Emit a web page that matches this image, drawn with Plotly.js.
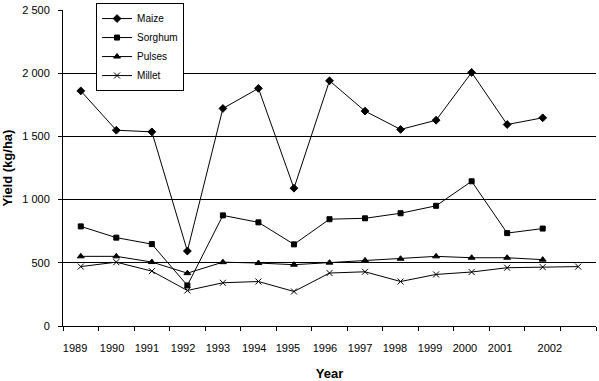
<!DOCTYPE html>
<html>
<head>
<meta charset="utf-8">
<script src="https://cdn.plot.ly/plotly-3.0.1.min.js"></script>
<style>html,body{margin:0;padding:0;background:#fff;}#chart{width:599px;height:381px;}</style>
</head>
<body>
<div id="chart"></div>
<script>
// ---- data ----
const years = ['1989','1990','1991','1992','1993','1994','1995','1996','1997','1998','1999','2000','2001','2002',''];
const maize   = [1860, 1549, 1536, 593, 1721, 1880, 1090, 1940, 1700, 1555, 1628, 2006, 1594, 1647];
const sorghum = [788, 699, 648, 321, 875, 820, 646, 845, 852, 892, 951, 1145, 735, 771];
const pulses  = [551, 551, 506, 418, 505, 498, 485, 501, 519, 532, 551, 540, 540, 525];
const millet  = [470, 505, 434, 281, 342, 352, 273, 419, 429, 352, 408, 427, 461, 466, 470];
const yTickVals   = [0, 500, 1000, 1500, 2000, 2500];
const yTickLabels = ['0', '500', '1 000', '1 500', '2 000', '2 500'];

// ---- layout helpers (positions, not data) ----
const labelShift = [-0.16,-0.12,-0.14,-0.12,-0.14,-0.12,-0.17,-0.13,-0.14,-0.16,-0.17,-0.19,-0.2,0.2];
const idx = arr => arr.map((_, i) => i);
const boundaries = years.map((_, i) => i - 0.5).concat([years.length - 0.5]);
const labelPos = years.slice(0, 14).map((_, i) => i + labelShift[i]);

const lineStyle = {color: '#000', width: 1};
function tr(name, vals, symbol, size) {
  return {
    type: 'scatter', mode: 'lines+markers', name: name,
    x: idx(vals), y: vals,
    line: lineStyle,
    marker: {symbol: symbol, size: size, color: '#000', line: {color: '#000', width: 1}}
  };
}
const data = [
  tr('Maize', maize, 'diamond', 6),
  tr('Sorghum', sorghum, 'square', 5),
  tr('Pulses', pulses, 'triangle-up', 6),
  tr('Millet', millet, 'x-thin-open', 6)
];
// invisible trace to anchor overlay axis
data.push({type: 'scatter', x: [0], y: [0], xaxis: 'x2', mode: 'markers',
  marker: {opacity: 0}, showlegend: false, hoverinfo: 'skip'});

const font = 'Liberation Sans, Arial, sans-serif';
const layout = {
  width: 599, height: 381,
  margin: {l: 63, r: 3, t: 10, b: 55},
  paper_bgcolor: '#fff', plot_bgcolor: '#fff',
  font: {family: font, color: '#000', size: 11},
  showlegend: true,
  legend: {
    x: 0.062, y: 1.022, xanchor: 'left', yanchor: 'top',
    bgcolor: '#fff', bordercolor: '#000', borderwidth: 1,
    font: {family: font, size: 10, color: '#000'},
    tracegroupgap: 0, itemwidth: 30
  },
  xaxis: {
    range: [-0.5, 14.5],
    tickmode: 'array', tickvals: boundaries, ticktext: boundaries.map(() => ''),
    ticks: 'outside', ticklen: 4, tickcolor: '#000', tickwidth: 1,
    showline: true, linecolor: '#000', linewidth: 1,
    showgrid: false, zeroline: false,
    title: {text: 'Year', font: {family: font, size: 13, color: '#000', weight: 'bold'}, standoff: 36}
  },
  xaxis2: {
    overlaying: 'x', anchor: 'y', side: 'bottom',
    range: [-0.5, 14.5],
    tickmode: 'array', tickvals: labelPos, ticktext: years.slice(0, 14),
    ticks: '', showline: false, showgrid: false, zeroline: false,
    tickfont: {family: font, size: 11, color: '#000'},
    ticklabelstandoff: 14
  },
  yaxis: {
    range: [0, 2500],
    tickmode: 'array', tickvals: yTickVals, ticktext: yTickLabels,
    ticks: 'outside', ticklen: 4, tickcolor: '#000', tickwidth: 1,
    showline: true, linecolor: '#000', linewidth: 1,
    showgrid: true, gridcolor: '#000', gridwidth: 1,
    zeroline: false,
    tickfont: {family: font, size: 11, color: '#000'},
    ticklabelstandoff: 6,
    title: {text: 'Yield (kg/ha)', font: {family: font, size: 13, color: '#000', weight: 'bold'}, standoff: 8}
  }
};
Plotly.newPlot('chart', data, layout, {displayModeBar: false, staticPlot: true});
</script>
</body>
</html>
